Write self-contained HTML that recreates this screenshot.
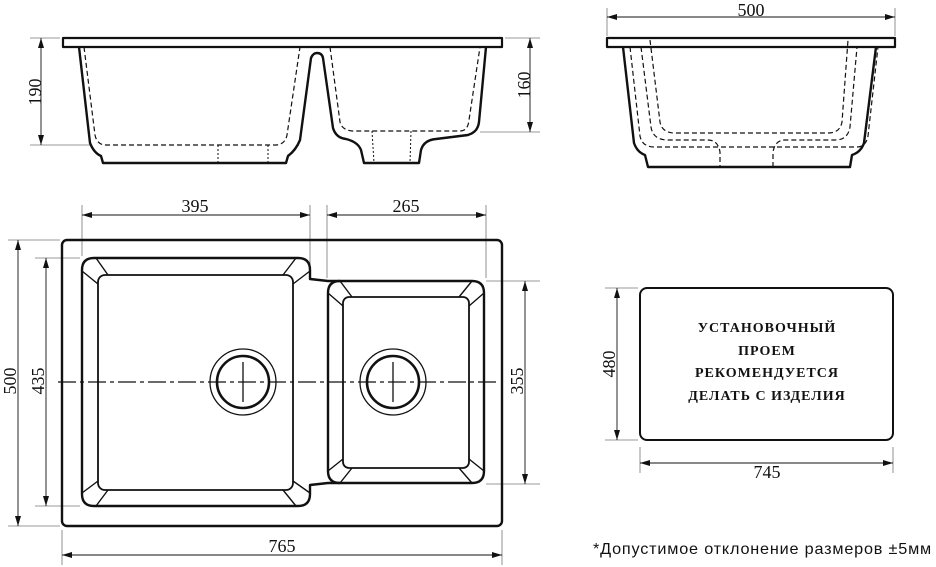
<!DOCTYPE html>
<html><head><meta charset="utf-8"><style>
html,body{margin:0;padding:0;background:#fff;}
svg{display:block;}
text{font-family:"Liberation Serif",serif;fill:#111;}
</style></head><body>
<svg width="936" height="567" viewBox="0 0 936 567" xmlns="http://www.w3.org/2000/svg">
<defs>
<marker id="a" viewBox="0 0 10 6" refX="10" refY="3" markerWidth="10" markerHeight="6" orient="auto-start-reverse" markerUnits="userSpaceOnUse"><path d="M0,0 L10,3 L0,6 z" fill="#111"/></marker>
</defs>
<g stroke="#777" stroke-width="0.8" fill="none">
<line x1="30" y1="38" x2="60" y2="38"/><line x1="30" y1="145" x2="90" y2="145"/>
<line x1="505" y1="38" x2="540" y2="38"/><line x1="480" y1="132" x2="540" y2="132"/>
<line x1="607" y1="8" x2="607" y2="36"/><line x1="895" y1="8" x2="895" y2="36"/>
<line x1="82" y1="205" x2="82" y2="256"/><line x1="310" y1="205" x2="310" y2="270"/>
<line x1="327" y1="205" x2="327" y2="278"/><line x1="486" y1="205" x2="486" y2="278"/>
<line x1="8" y1="240" x2="60" y2="240"/><line x1="8" y1="526" x2="60" y2="526"/>
<line x1="35" y1="258" x2="80" y2="258"/><line x1="35" y1="506" x2="80" y2="506"/>
<line x1="486" y1="281" x2="540" y2="281"/><line x1="486" y1="484" x2="540" y2="484"/>
<line x1="62" y1="530" x2="62" y2="565"/><line x1="502" y1="530" x2="502" y2="565"/>
<line x1="605" y1="288" x2="638" y2="288"/><line x1="605" y1="440" x2="638" y2="440"/>
<line x1="640" y1="447" x2="640" y2="473"/><line x1="893" y1="447" x2="893" y2="473"/>
</g>
<g stroke="#111" stroke-width="0.9" fill="none">
<line x1="41" y1="38" x2="41" y2="145" marker-start="url(#a)" marker-end="url(#a)"/>
<line x1="530" y1="38" x2="530" y2="132" marker-start="url(#a)" marker-end="url(#a)"/>
<line x1="607" y1="17" x2="895" y2="17" marker-start="url(#a)" marker-end="url(#a)"/>
<line x1="82" y1="215" x2="310" y2="215" marker-start="url(#a)" marker-end="url(#a)"/>
<line x1="327" y1="215" x2="486" y2="215" marker-start="url(#a)" marker-end="url(#a)"/>
<line x1="18" y1="240" x2="18" y2="526" marker-start="url(#a)" marker-end="url(#a)"/>
<line x1="46" y1="258" x2="46" y2="506" marker-start="url(#a)" marker-end="url(#a)"/>
<line x1="525" y1="281" x2="525" y2="484" marker-start="url(#a)" marker-end="url(#a)"/>
<line x1="62" y1="555" x2="502" y2="555" marker-start="url(#a)" marker-end="url(#a)"/>
<line x1="617" y1="288" x2="617" y2="440" marker-start="url(#a)" marker-end="url(#a)"/>
<line x1="640" y1="463" x2="893" y2="463" marker-start="url(#a)" marker-end="url(#a)"/>
</g>
<g font-size="18" text-anchor="middle">
<text transform="translate(41,92) rotate(-90)">190</text>
<text transform="translate(530,85) rotate(-90)">160</text>
<text x="751" y="16">500</text>
<text x="195" y="212">395</text>
<text x="406" y="212">265</text>
<text transform="translate(16,381) rotate(-90)">500</text>
<text transform="translate(44,381) rotate(-90)">435</text>
<text transform="translate(523,381) rotate(-90)">355</text>
<text x="282" y="552">765</text>
<text transform="translate(615,364) rotate(-90)">480</text>
<text x="767" y="478">745</text>
</g>
<g stroke="#111" fill="none" stroke-linejoin="round">
<rect x="63" y="38" width="439" height="9" stroke-width="2.2"/>
<path d="M79,47 L90,143 Q94,153 101,156 L103,163 L286,163 L288,156 Q296,150 300,140 L311,58 Q313,53 317,53 Q322,53 323,58 L333,128 Q336,138 346,139 Q358,142 361,150 L364,163 L419,163 L421,150 Q424,140 436,139 L468,135 Q478,132 479,122 L486,47" stroke-width="2.4"/>
<path d="M84,47 L95,135 Q97,145 106,145 L275,145 Q285,145 287,135 L300,47 M330,47 L340,122 Q342,130 352,131 L460,131 Q468,131 469,120 L480,47" stroke-width="1.2" stroke-dasharray="5,3"/>
<path d="M218,145 L218,163 M268,145 L268,163 M372,131 L374,163 M411,131 L410,163" stroke-width="1" stroke-dasharray="2,2"/>
</g>
<g stroke="#111" fill="none" stroke-linejoin="round">
<rect x="607" y="38" width="288" height="9" stroke-width="2.2"/>
<path d="M623,47 L634,143 Q637,152 645,155 L648,167 L850,167 L852,155 Q861,152 864,143 L876,47" stroke-width="2.4"/>
<path d="M630,47 L640,136 Q642,147 655,147 L857,147 Q866,147 868,136 L878,47 M641,47 L651,127 Q653,140 668,140 L708,140 Q718,140 720,152 L720,167 M773,167 L773,152 Q775,140 785,140 L835,140 Q848,140 850,127 L857,47 M650,40 L660,122 Q662,133 675,133 L828,133 Q840,133 842,122 L848,40" stroke-width="1.2" stroke-dasharray="5,3"/>
</g>
<g stroke="#111" fill="none" stroke-linejoin="round">
<rect x="62" y="240" width="440" height="286" rx="5" stroke-width="2.4"/>
<path d="M94,258 L298,258 Q310,258 310,270 L310,279 L328,281 L472,281 Q484,281 484,293 L484,471 Q484,483 472,483 L328,483 L310,485 L310,494 Q310,506 298,506 L94,506 Q82,506 82,494 L82,270 Q82,258 94,258 Z" stroke-width="2.4"/>
<path d="M340,281 Q328,281 328,293 L328,471 Q328,483 340,483" stroke-width="2.4"/>
<rect x="98" y="275" width="195" height="215" rx="7" stroke-width="1.8"/>
<rect x="343" y="297" width="126" height="171" rx="6" stroke-width="1.8"/>
<path d="M96,258 L108,275 M82,271 L98,284 M296,258 L283,275 M310,271 L293,284 M82,493 L98,481 M96,506 L108,490 M310,493 L293,481 M296,506 L283,490 M340,281 L352,297 M328,293 L343,306 M472,281 L459,297 M484,293 L469,306 M328,471 L343,459 M340,483 L352,468 M484,471 L469,459 M472,483 L459,468" stroke-width="1.4"/>
<circle cx="243" cy="382" r="33" stroke-width="1.3"/>
<circle cx="243" cy="382" r="26" stroke-width="2.6"/>
<circle cx="393" cy="382" r="33" stroke-width="1.3"/>
<circle cx="393" cy="382" r="26" stroke-width="2.6"/>
<path d="M243,362 L243,402 M393,362 L393,402" stroke-width="1.3"/>
<line x1="58" y1="382" x2="500" y2="382" stroke-width="1.2" stroke-dasharray="18,4,4,4"/>
</g>
<rect x="640" y="288" width="253" height="152" rx="7" fill="none" stroke="#111" stroke-width="2"/>
<g font-size="14" font-weight="bold" text-anchor="middle" letter-spacing="1">
<text x="767" y="332">УСТАНОВОЧНЫЙ</text>
<text x="767" y="355">ПРОЕМ</text>
<text x="767" y="377">РЕКОМЕНДУЕТСЯ</text>
<text x="767" y="400">ДЕЛАТЬ С ИЗДЕЛИЯ</text>
</g>
<text x="593" y="554" font-size="16" letter-spacing="0.8" style="font-family:'Liberation Sans',sans-serif" textLength="339" lengthAdjust="spacingAndGlyphs">*Допустимое отклонение размеров ±5мм</text>
</svg>
</body></html>
